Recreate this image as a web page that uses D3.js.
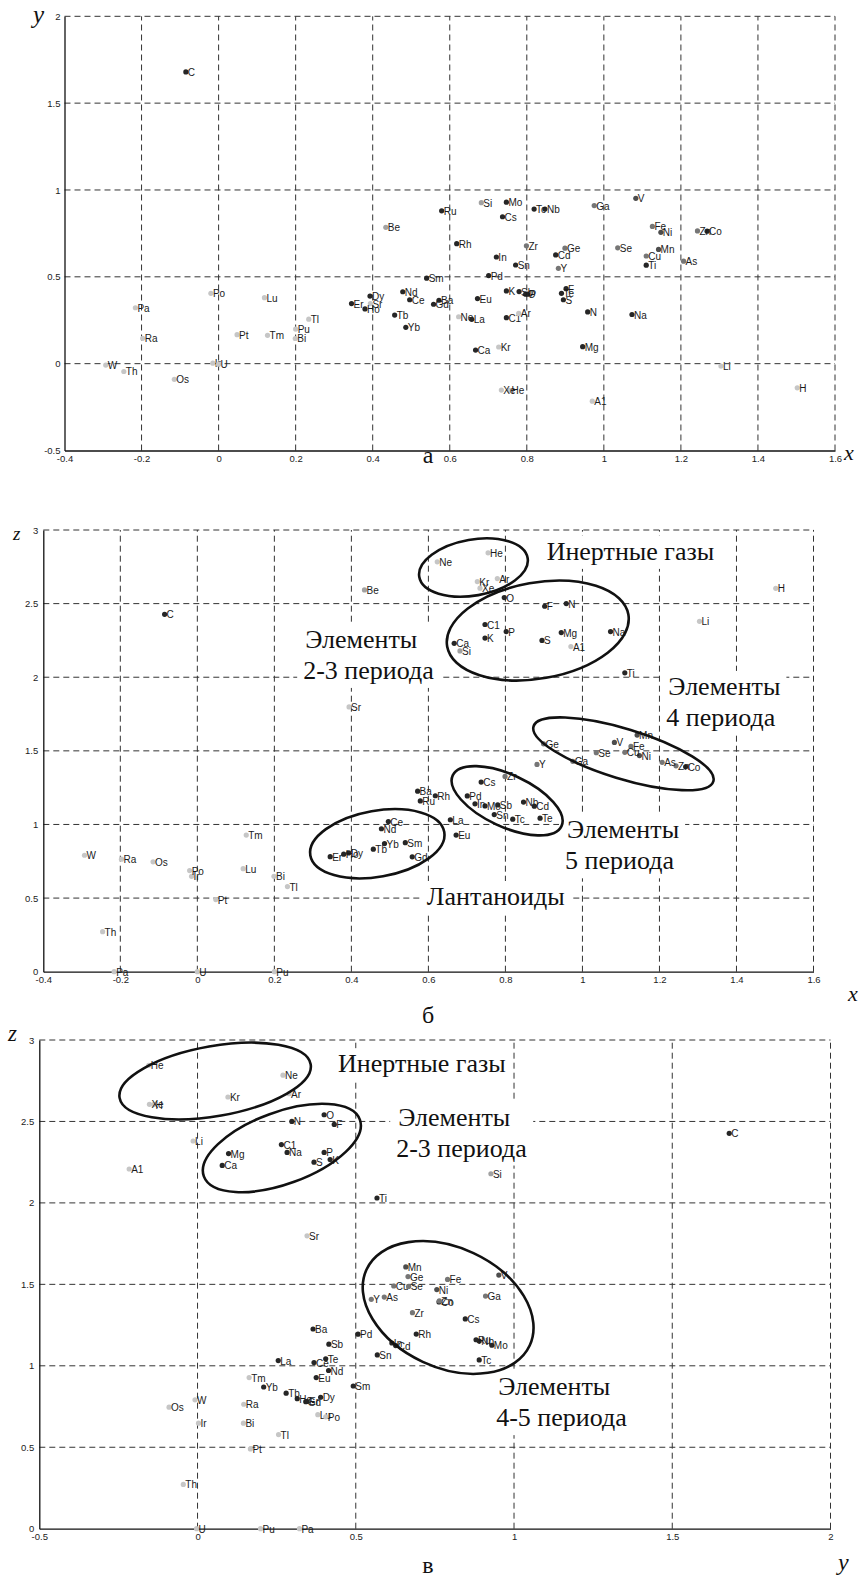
<!DOCTYPE html>
<html>
<head>
<meta charset="utf-8">
<script src="https://cdn.jsdelivr.net/npm/d3@7"></script>
<style>
  body { margin: 0; background: #fff; }
  svg { display: block; }
</style>
</head>
<body>
<svg id="chart" width="861" height="1577"></svg>
<script>
// Chemical elements and their coordinates in the (x, y, z) descriptor space
const elements = ["H","He","Li","Be","C","N","O","F","Ne","Na","Mg","Al","Si","P","S","Cl","Ar","K","Ca",
  "Ti","V","Mn","Fe","Co","Ni","Cu","Zn","Ga","Ge","As","Se","Kr","Sr","Y","Zr","Nb","Mo","Tc","Ru","Rh",
  "Pd","Cd","In","Sn","Sb","Te","Xe","Cs","Ba","La","Ce","Nd","Sm","Eu","Gd","Tb","Dy","Ho","Er","Tm","Yb",
  "Lu","W","Os","Ir","Pt","Tl","Bi","Po","Ra","Th","Pa","U","Pu"];

const elementLabels = ["H","He","Li","Be","C","N","O","F","Ne","Na","Mg","A1","Si","P","S","C1","Ar","K","Ca",
  "Ti","V","Mn","Fe","Co","Ni","Cu","Zn","Ga","Ge","As","Se","Kr","Sr","Y","Zr","Nb","Mo","Tc","Ru","Rh",
  "Pd","Cd","In","Sn","Sb","Te","Xe","Cs","Ba","La","Ce","Nd","Sm","Eu","Gd","Tb","Dy","Ho","Er","Tm","Yb",
  "Lu","W","Os","Ir","Pt","Tl","Bi","Po","Ra","Th","Pa","U","Pu"];

const xValues = [1.502,0.755,1.304,0.434,-0.085,0.958,0.797,0.902,0.623,1.073,0.945,0.970,0.682,0.802,0.895,0.747,0.779,0.747,0.667,
  1.110,1.083,1.142,1.126,1.268,1.148,1.110,1.243,0.975,0.899,1.207,1.036,0.727,0.394,0.882,0.799,0.847,0.747,0.819,0.579,0.618,
  0.701,0.875,0.721,0.771,0.780,0.890,0.734,0.737,0.572,0.657,0.496,0.478,0.540,0.672,0.558,0.457,0.393,0.380,0.345,0.127,0.486,
  0.119,-0.293,-0.115,-0.015,0.048,0.234,0.199,-0.020,-0.197,-0.246,-0.216,0.000,0.200];

const yValues = [-0.139,-0.154,-0.014,0.785,1.680,0.298,0.400,0.432,0.270,0.283,0.098,-0.216,0.927,0.400,0.368,0.265,0.289,0.419,0.078,
  0.567,0.952,0.658,0.790,0.763,0.756,0.620,0.764,0.910,0.665,0.590,0.667,0.096,0.346,0.549,0.679,0.890,0.930,0.890,0.880,0.691,
  0.507,0.626,0.614,0.568,0.415,0.405,-0.152,0.846,0.365,0.255,0.368,0.414,0.492,0.375,0.342,0.280,0.389,0.315,0.346,0.163,0.209,
  0.380,-0.008,-0.090,0.003,0.167,0.256,0.145,0.405,0.146,-0.045,0.322,-0.003,0.199];

const zValues = [2.604,2.845,2.380,2.593,2.427,2.500,2.541,2.482,2.784,2.310,2.303,2.208,2.179,2.310,2.250,2.358,2.670,2.266,2.230,
  2.030,1.557,1.607,1.530,1.392,1.468,1.490,1.398,1.428,1.548,1.422,1.487,2.650,1.798,1.408,1.326,1.152,1.126,1.036,1.160,1.195,
  1.194,1.124,1.140,1.067,1.133,1.043,2.605,1.288,1.226,1.032,1.020,0.971,0.876,0.928,0.780,0.832,0.807,0.798,0.781,0.928,0.870,
  0.700,0.791,0.746,0.648,0.490,0.578,0.648,0.687,0.764,0.272,0.000,0.000,0.000];

// grey level of each marker (0 = darkest, 4 = lightest)
const shadeLevel = [4,4,4,3,0,0,0,0,4,0,0,4,3,0,0,0,4,0,0,
  0,1,1,2,0,1,2,2,2,2,2,2,4,4,2,2,0,0,0,0,0,
  0,0,0,0,0,0,4,0,0,0,0,0,0,0,0,0,0,0,0,4,0,
  4,4,4,4,4,4,4,4,4,4,4,4,4];
const shadeColors = ["#262626", "#4d4d4d", "#767676", "#a2a2a2", "#c6c6c6"];

// tick values
const xTicks = [-0.4, -0.2, 0, 0.2, 0.4, 0.6, 0.8, 1, 1.2, 1.4, 1.6];
const yTicksA = [-0.5, 0, 0.5, 1, 1.5, 2];
const zTicks = [0, 0.5, 1, 1.5, 2, 2.5, 3];
const yTicksC = [-0.5, 0, 0.5, 1, 1.5, 2];

// group annotations: [text line 1, text line 2, anchor h, anchor v]
const groupTextsB = [
  ["Инертные газы", null, 0.907, 2.797],
  ["Элементы", "2-3 периода", 0.280, 2.199],
  ["Элементы", "4 периода", 1.223, 1.880],
  ["Элементы", "5 периода", 0.960, 0.906],
  ["Лантаноиды", null, 0.596, 0.453]
];
const groupTextsC = [
  ["Инертные газы", null, 0.444, 2.802],
  ["Элементы", "2-3 периода", 0.634, 2.475],
  ["Элементы", "4-5 периода", 0.950, 0.820]
];
// group outlines: [centre h, centre v, rx, ry, angle]
const groupOutlinesB = [
  [0.717, 2.745, 55, 28, -10],
  [0.884, 2.317, 92, 48, -10],
  [1.1065, 1.480, 94, 25, 17],
  [0.8044, 1.161, 60, 26, 25],
  [0.4673, 0.869, 68, 33, -10]
];
const groupOutlinesC = [
  [0.0556, 2.748, 97, 35, -10],
  [0.2664, 2.337, 83, 36, -20],
  [0.7918, 1.358, 90, 60, 25]
];

const svg = d3.select("#chart");
const SANS = "'Liberation Sans', Arial, sans-serif";
const SERIF = "'Liberation Serif', 'Times New Roman', serif";
const fmt = d => String(d);

function drawPanel(cfg) {
  const g = svg.append("g");
  const hs = d3.scaleLinear().domain(cfg.hDomain).range(cfg.hRange);
  const vs = d3.scaleLinear().domain(cfg.vDomain).range(cfg.vRange);
  const [top, bottom] = [cfg.vRange[1], cfg.vRange[0]];
  const [left, right] = cfg.hRange;

  // dashed grid (the top and right edges are grid lines too)
  const grid = g.append("g").attr("stroke", "#333").attr("stroke-width", 1)
    .attr("stroke-dasharray", "6,4");
  grid.selectAll("line.v").data(cfg.hTicks.slice(1)).join("line")
    .attr("x1", d => hs(d)).attr("x2", d => hs(d))
    .attr("y1", bottom).attr("y2", top);
  grid.selectAll("line.h").data(cfg.vTicks.slice(1)).join("line")
    .attr("x1", left).attr("x2", right)
    .attr("y1", d => vs(d)).attr("y2", d => vs(d));

  // axes
  const ax = g.append("g").attr("transform", `translate(0,${bottom})`)
    .call(d3.axisBottom(hs).tickValues(cfg.hTicks).tickFormat(fmt).tickSize(0).tickPadding(5));
  const ay = g.append("g").attr("transform", `translate(${left},0)`)
    .call(d3.axisLeft(vs).tickValues(cfg.vTicks).tickFormat(fmt).tickSize(0).tickPadding(cfg.yPad));
  [ax, ay].forEach(a => {
    a.select(".domain").attr("stroke", "#111").attr("stroke-width", 1.3);
    a.selectAll("text").attr("font-family", SANS).attr("font-size", 9.5).attr("fill", "#222");
  });

  // element markers with their labels
  const pts = g.append("g").selectAll("g").data(elements.map((e, i) => i)).join("g")
    .attr("transform", i => `translate(${hs(cfg.h[i])},${vs(cfg.v[i])})`);
  pts.append("circle").attr("r", 2.6).attr("fill", i => shadeColors[shadeLevel[i]]);
  pts.append("text").text(i => elementLabels[i])
    .attr("x", 2).attr("y", 4)
    .attr("font-family", SANS).attr("font-size", 10).attr("fill", "#1a1a1a");

  // group annotations on white boxes
  (cfg.texts || []).forEach(t => {
    const tg = g.append("g");
    const x0 = hs(t[2]), y0 = vs(t[3]);
    const txt = tg.append("text").attr("font-family", SERIF).attr("font-size", 26).attr("fill", "#111");
    txt.append("tspan").attr("x", x0).attr("y", y0).text(t[0]);
    if (t[1]) txt.append("tspan").attr("x", x0 - 2).attr("y", y0 + 31).text(t[1]);
    const bb = txt.node().getBBox();
    tg.insert("rect", "text").attr("x", bb.x - 6).attr("y", bb.y - 1)
      .attr("width", bb.width + 12).attr("height", bb.height + 4).attr("fill", "#fff");
  });

  // group outlines
  g.append("g").selectAll("ellipse").data(cfg.outlines || []).join("ellipse")
    .attr("transform", d => `translate(${hs(d[0])},${vs(d[1])}) rotate(${d[4]})`)
    .attr("rx", d => d[2]).attr("ry", d => d[3])
    .attr("fill", "none").attr("stroke", "#111").attr("stroke-width", 2.6);

  // axis letters and panel caption
  cfg.letters.forEach(l => {
    g.append("text").attr("x", l[1]).attr("y", l[2]).text(l[0])
      .attr("font-family", SERIF).attr("font-style", l[4] ? "normal" : "italic")
      .attr("font-size", l[3]).attr("fill", "#111")
      .attr("text-anchor", l[4] ? "middle" : "start");
  });
}

drawPanel({
  hDomain: [-0.4, 1.6], hRange: [64.5, 835],
  vDomain: [-0.5, 2], vRange: [450.5, 16.3],
  hTicks: xTicks, vTicks: yTicksA, yPad: 4,
  h: xValues, v: yValues,
  letters: [["y", 33, 23, 25], ["x", 844, 460, 22], ["а", 428, 463, 24, true]]
});

drawPanel({
  hDomain: [-0.4, 1.6], hRange: [43.3, 813.5],
  vDomain: [0, 3], vRange: [971.7, 530],
  hTicks: xTicks, vTicks: zTicks, yPad: 5,
  h: xValues, v: zValues,
  texts: groupTextsB, outlines: groupOutlinesB,
  letters: [["z", 13, 539.5, 19], ["x", 848, 1001, 22], ["б", 428, 1023, 24, true]]
});

drawPanel({
  hDomain: [-0.5, 2], hRange: [39.3, 830.5],
  vDomain: [0, 3], vRange: [1528.7, 1040],
  hTicks: yTicksC, vTicks: zTicks, yPad: 5,
  h: yValues, v: zValues,
  texts: groupTextsC, outlines: groupOutlinesC,
  letters: [["z", 8, 1041, 23], ["y", 838, 1570, 24], ["в", 428, 1573, 24, true]]
});
</script>
</body>
</html>
